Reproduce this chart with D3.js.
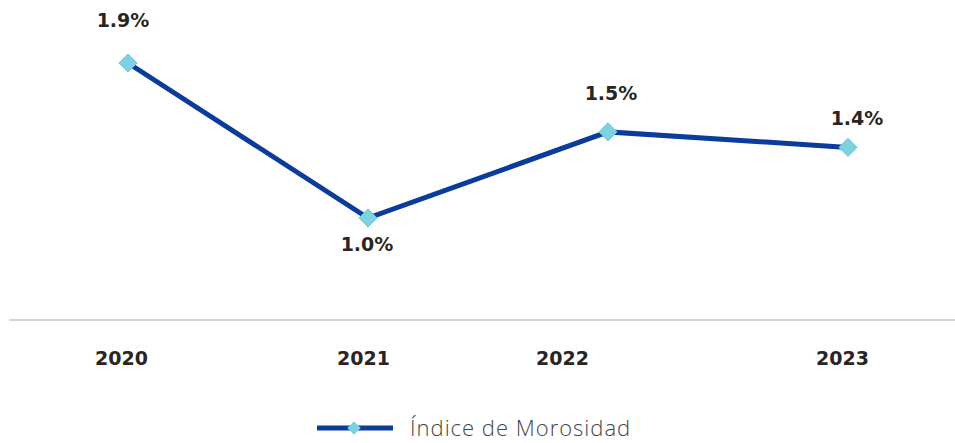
<!DOCTYPE html>
<html>
<head>
<meta charset="utf-8">
<script src="https://cdn.jsdelivr.net/npm/d3@7"></script>
<style>
  body { margin: 0; background: #fff; }
  text { font-family: "DejaVu Sans", sans-serif; }
</style>
</head>
<body>
<script>
let years = ['2020', '2021', '2022', '2023']
let morosidad = [1.9, 1.0, 1.5, 1.41]
let seriesName = 'Índice de Morosidad'

let width = 955, height = 443
let lineColor = '#0b3b9b', markColor = '#7ed1de'

let svg = d3.select('body').append('svg')
  .attr('width', width)
  .attr('height', height)

let x = d3.scalePoint().domain(years).range([128, 848])
let y = d3.scaleLinear().domain([1.0, 1.9]).range([218, 63])

// baseline
svg.append('line')
  .attr('x1', 9).attr('x2', 955)
  .attr('y1', 320).attr('y2', 320)
  .attr('stroke', '#d4d4d4').attr('stroke-width', 2)

// year labels (2022 sits a bit left in the original)
let tickShift = {'2020': -7, '2021': -5, '2022': -46, '2023': -6}
let axis = svg.append('g')
  .attr('transform', 'translate(0,358)')
  .call(d3.axisBottom(x).tickSize(0).tickPadding(0))
axis.select('.domain').remove()
axis.selectAll('text')
  .attr('dx', d => tickShift[d])
  .attr('dy', '0.36em')
  .attr('y', 0)
  .attr('font-size', 19)
  .attr('font-weight', 'bold')
  .attr('fill', '#2a2522')
  .style('font-family', '"DejaVu Sans", sans-serif')

let pts = years.map((d, i) => ({year: d, v: morosidad[i]}))

svg.append('path')
  .datum(pts)
  .attr('fill', 'none')
  .attr('stroke', lineColor)
  .attr('stroke-width', 5)
  .attr('d', d3.line().x(d => x(d.year)).y(d => y(d.v)))

let diamond = d3.symbol().type(d3.symbolDiamond2).size(210)

svg.selectAll('.mark')
  .data(pts)
  .enter().append('path')
  .attr('class', 'mark')
  .attr('transform', d => `translate(${x(d.year)},${y(d.v)})`)
  .attr('d', diamond)
  .attr('fill', markColor)
  .attr('stroke', '#6cc8d8')
  .attr('stroke-width', 1)

let labelDy = [-43, 26, -39, -29]
let labelDx = [-5, -1, 3, 9]
svg.selectAll('.lbl')
  .data(pts)
  .enter().append('text')
  .attr('class', 'lbl')
  .attr('x', (d, i) => x(d.year) + labelDx[i])
  .attr('y', (d, i) => y(d.v) + labelDy[i])
  .attr('dy', '0.36em')
  .attr('text-anchor', 'middle')
  .attr('font-size', 19)
  .attr('font-weight', 'bold')
  .attr('fill', '#2a2522')
  .text(d => d.v.toFixed(1) + '%')

// legend
let leg = svg.append('g').attr('transform', 'translate(317,428)')
leg.append('line')
  .attr('x1', 0).attr('x2', 76)
  .attr('stroke', lineColor).attr('stroke-width', 5)
leg.append('path')
  .attr('transform', 'translate(37,0)')
  .attr('d', d3.symbol().type(d3.symbolDiamond2).size(115))
  .attr('fill', markColor)
leg.append('text')
  .attr('x', 93)
  .attr('dy', '0.35em')
  .attr('font-size', 22)
  .attr('fill', '#444')
  .style('font-family', '"Open Sans", sans-serif')
  .style('font-weight', 300)
  .style('letter-spacing', '1px')
  .text(seriesName)
</script>
</body>
</html>
